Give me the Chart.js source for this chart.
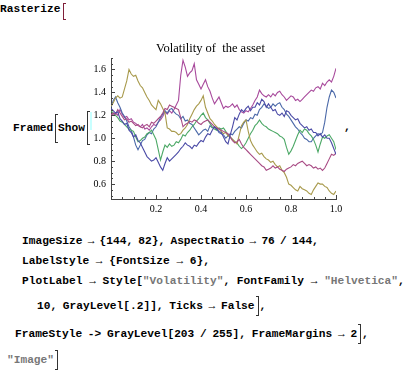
<!DOCTYPE html>
<html>
<head>
<meta charset="utf-8">
<script src="https://cdn.jsdelivr.net/npm/chart.js@4.4.1/dist/chart.umd.min.js"></script>
<style>
    html, body { margin: 0; padding: 0; background: #fff; }
    body { width: 412px; height: 370px; position: relative; overflow: hidden; }
    .code {
        position: absolute;
        font-family: "Liberation Mono", "Courier New", monospace;
        font-weight: bold;
        font-size: 11.2px;
        line-height: 13px;
        white-space: pre;
        color: #000;
    }
    .str { color: #777; }
    .brk {
        position: absolute;
        width: 2px;
        border: 1px solid #333;
    }
    .brk.open { border-right: none; }
    .ibrk {
        display: inline-block;
        width: 2px;
        height: 18px;
        border: 1px solid #333;
        border-left: none;
        vertical-align: -7px;
        margin: 0 1px 0 1px;
    }
    #chartBox { position: absolute; left: 85px; top: 30px; width: 262px; height: 190px; }
</style>
</head>
<body>

<div class="code" style="left:0px; top:3px;">Rasterize</div>
<div class="brk open" style="left:63px; top:3px; height:15px; border-color:#80203a;"></div>

<div class="code" style="left:13px; top:122px;">Framed</div>
<div class="brk open" style="left:55px; top:114px; height:27px;"></div>
<div class="code" style="left:58px; top:122px;">Show</div>
<div class="brk open" style="left:87px; top:111px; height:32px;"></div>
<div style="position:absolute; left:90px; top:112px; width:2px; height:18px; background:#c8ffff;"></div>
<div class="code" style="left:344px; top:121px;">,</div>

<div id="chartBox"><canvas id="volChart" width="262" height="190"></canvas></div>

<div class="code" style="left:22px; top:235px; word-spacing:-1.5px;">ImageSize → {144, 82}, AspectRatio → 76 / 144,</div>
<div class="code" style="left:22px; top:255px;">LabelStyle → {FontSize → 6},</div>
<div class="code" style="left:22px; top:275px;">PlotLabel → Style[<span class="str">"Volatility"</span>, FontFamily → <span class="str">"Helvetica"</span>,</div>
<div class="code" style="left:37px; top:296px; word-spacing:-1px;">10, GrayLevel[.2]], Ticks → False<span class="ibrk"></span>,</div>
<div class="code" style="left:15px; top:324px; word-spacing:-1px;">FrameStyle -> GrayLevel[203 / 255], FrameMargins → 2<span class="ibrk"></span>,</div>
<div class="code" style="left:7px; top:350px;"><span class="str">"Image"</span><span class="ibrk"></span></div>

<script>
// time axis (fraction of the period)
const steps = [
    0.00, 0.01, 0.02, 0.03, 0.04, 0.05, 0.06, 0.07, 0.08, 0.09,
    0.10, 0.11, 0.12, 0.13, 0.14, 0.15, 0.16, 0.17, 0.18, 0.19,
    0.20, 0.21, 0.22, 0.23, 0.24, 0.25, 0.26, 0.27, 0.28, 0.29,
    0.30, 0.31, 0.32, 0.33, 0.34, 0.35, 0.36, 0.37, 0.38, 0.39,
    0.40, 0.41, 0.42, 0.43, 0.44, 0.45, 0.46, 0.47, 0.48, 0.49,
    0.50, 0.51, 0.52, 0.53, 0.54, 0.55, 0.56, 0.57, 0.58, 0.59,
    0.60, 0.61, 0.62, 0.63, 0.64, 0.65, 0.66, 0.67, 0.68, 0.69,
    0.70, 0.71, 0.72, 0.73, 0.74, 0.75, 0.76, 0.77, 0.78, 0.79,
    0.80, 0.81, 0.82, 0.83, 0.84, 0.85, 0.86, 0.87, 0.88, 0.89,
    0.90, 0.91, 0.92, 0.93, 0.94, 0.95, 0.96, 0.97, 0.98, 0.99,
    1.00
];

const pathDarkBlue = [
    1.26, 1.24, 1.22, 1.23, 1.17, 1.15, 1.12, 1.13, 1.07, 1.05,
    1.01, 1.03, 0.98, 0.96, 0.92, 0.88, 0.84, 0.82, 0.80, 0.81,
    0.83, 0.79, 0.75, 0.72, 0.78, 0.83, 0.80, 0.82, 0.84, 0.86,
    0.88, 0.91, 0.93, 0.96, 0.94, 0.93, 0.91, 0.94, 0.93, 0.96,
    0.98, 0.97, 1.01, 1.04, 1.03, 1.07, 1.10, 1.08, 1.06, 1.05,
    1.01, 0.97, 0.95, 1.03, 1.10, 1.18, 1.16, 1.21, 1.25, 1.23,
    1.26, 1.28, 1.24, 1.27, 1.27, 1.31, 1.29, 1.34, 1.32, 1.27,
    1.30, 1.27, 1.24, 1.25, 1.21, 1.20, 1.22, 1.19, 1.24, 1.23,
    1.20, 1.18, 1.16, 1.17, 1.13, 1.11, 1.09, 1.10, 1.07, 1.08,
    1.05, 1.05, 1.02, 1.04, 1.01, 1.03, 1.00, 1.00, 0.96, 0.91,
    0.86
];

const pathPink = [
    1.20, 1.22, 1.21, 1.25, 1.22, 1.19, 1.16, 1.17, 1.14, 1.15,
    1.13, 1.11, 1.12, 1.10, 1.09, 1.11, 1.12, 1.10, 1.14, 1.13,
    1.15, 1.17, 1.19, 1.22, 1.26, 1.25, 1.29, 1.28, 1.27, 1.26,
    1.25, 1.18, 1.10, 1.12, 1.13, 1.15, 1.14, 1.16, 1.15, 1.13,
    1.12, 1.14, 1.15, 1.16, 1.14, 1.12, 1.10, 1.09, 1.08, 1.07,
    1.06, 1.05, 1.04, 1.01, 0.98, 0.96, 0.97, 0.99, 0.95, 0.92,
    0.90, 0.88, 0.86, 0.84, 0.82, 0.80, 0.78, 0.76, 0.75, 0.72,
    0.73, 0.74, 0.76, 0.74, 0.75, 0.73, 0.72, 0.71, 0.73, 0.74,
    0.75, 0.77, 0.76, 0.78, 0.79, 0.80, 0.78, 0.76, 0.77, 0.76,
    0.74, 0.75, 0.73, 0.74, 0.72, 0.74, 0.78, 0.82, 0.86, 0.85,
    0.87
];

const pathOlive = [
    1.28, 1.31, 1.35, 1.37, 1.35, 1.36, 1.43, 1.50, 1.60, 1.56,
    1.54, 1.55, 1.50, 1.46, 1.44, 1.40, 1.36, 1.33, 1.29, 1.27,
    1.25, 1.33, 1.30, 1.26, 1.22, 1.09, 1.08, 1.06, 1.06, 1.05,
    1.03, 1.04, 1.07, 1.09, 1.12, 1.17, 1.21, 1.25, 1.28, 1.30,
    1.33, 1.37, 1.27, 1.22, 1.17, 1.15, 1.12, 1.10, 1.08, 1.06,
    1.04, 1.05, 1.02, 1.01, 0.99, 0.97, 0.95, 1.03, 1.11, 1.14,
    1.16, 1.06, 0.98, 0.94, 0.91, 0.88, 0.86, 0.87, 0.84, 0.82,
    0.81, 0.79, 0.80, 0.77, 0.75, 0.76, 0.72, 0.70, 0.66, 0.60,
    0.59, 0.57, 0.55, 0.54, 0.58, 0.56, 0.55, 0.54, 0.52, 0.51,
    0.55, 0.58, 0.61, 0.60, 0.60, 0.58, 0.57, 0.54, 0.52, 0.51,
    0.54
];

const pathGreen = [
    1.24, 1.22, 1.20, 1.18, 1.15, 1.14, 1.12, 1.10, 1.08, 1.07,
    1.06, 1.01, 0.97, 0.98, 1.00, 1.01, 1.04, 1.05, 1.07, 1.03,
    0.99, 0.90, 0.81, 0.88, 0.94, 0.92, 0.95, 0.93, 0.94, 0.97,
    0.96, 0.99, 1.03, 1.02, 1.05, 1.07, 1.10, 1.12, 1.15, 1.17,
    1.20, 1.22, 1.18, 1.16, 1.13, 1.10, 1.08, 1.07, 1.09, 1.08,
    1.09, 1.06, 1.03, 1.01, 0.99, 0.97, 0.96, 0.93, 0.91, 0.93,
    0.96, 1.00, 1.04, 1.07, 1.11, 1.13, 1.16, 1.13, 1.11, 1.10,
    1.08, 1.07, 1.06, 1.05, 1.04, 1.02, 1.01, 0.99, 0.92, 0.86,
    0.89, 0.93, 0.98, 1.03, 1.07, 1.05, 1.08, 1.07, 1.04, 1.02,
    0.99, 0.94, 0.88, 0.95, 1.01, 1.00, 1.02, 1.03, 1.00, 0.97,
    0.90
];

const pathBlue = [
    1.27, 1.33, 1.36, 1.31, 1.27, 1.22, 1.19, 1.15, 1.10, 1.07,
    1.01, 0.94, 0.90, 0.94, 0.98, 0.99, 1.03, 1.05, 1.04, 1.08,
    1.10, 1.14, 1.18, 1.21, 1.24, 1.22, 1.25, 1.26, 1.23, 1.21,
    1.20, 1.17, 1.19, 1.15, 1.16, 1.13, 1.12, 1.09, 1.06, 1.03,
    1.05, 1.07, 1.08, 1.06, 1.11, 1.09, 1.10, 1.08, 1.05, 1.04,
    1.03, 1.00, 1.02, 1.04, 1.03, 1.06, 1.08, 1.10, 1.09, 1.13,
    1.16, 1.15, 1.18, 1.17, 1.21, 1.20, 1.25, 1.27, 1.30, 1.28,
    1.26, 1.27, 1.30, 1.28, 1.30, 1.31, 1.27, 1.25, 1.21, 1.19,
    1.16, 1.13, 1.10, 1.08, 1.05, 1.03, 1.00, 0.99, 0.97, 0.97,
    1.00, 1.02, 1.04, 1.03, 1.05, 1.14, 1.27, 1.36, 1.42, 1.40,
    1.35
];

const pathPurple = [
    1.19, 1.21, 1.22, 1.20, 1.25, 1.21, 1.18, 1.19, 1.16, 1.17,
    1.14, 1.13, 1.11, 1.10, 1.12, 1.08, 1.09, 1.07, 1.10, 1.12,
    1.11, 1.14, 1.16, 1.19, 1.23, 1.21, 1.24, 1.22, 1.25, 1.29,
    1.33, 1.55, 1.68, 1.62, 1.54, 1.57, 1.59, 1.65, 1.51, 1.47,
    1.43, 1.47, 1.51, 1.45, 1.41, 1.35, 1.30, 1.33, 1.36, 1.31,
    1.26, 1.28, 1.27, 1.28, 1.30, 1.27, 1.29, 1.25, 1.23, 1.22,
    1.24, 1.23, 1.26, 1.29, 1.33, 1.36, 1.42, 1.39, 1.37, 1.36,
    1.38, 1.36, 1.39, 1.37, 1.40, 1.41, 1.38, 1.36, 1.33, 1.35,
    1.37, 1.36, 1.33, 1.34, 1.32, 1.34, 1.36, 1.38, 1.40, 1.42,
    1.41, 1.44, 1.45, 1.43, 1.48, 1.46, 1.49, 1.51, 1.49, 1.54,
    1.61
];

const xTickValues = [0.2, 0.4, 0.6, 0.8, 1.0];
const yTickValues = [0.6, 0.8, 1.0, 1.2, 1.4, 1.6];
const plotTitle = 'Volatility of  the asset';

const AXIS_COLOR = '#444';
const SERIF = '"Liberation Serif", "Times New Roman", serif';

// Mathematica-style ticks that point into the plot
const inwardTicks = {
    id: 'inwardTicks',
    afterDraw(chart) {
        const { ctx, chartArea, scales } = chart;
        const xs = scales.x;
        const ys = scales.y;
        const isMajor = (list, v) => list.some(t => Math.abs(t - v) < 1e-6);
        ctx.save();
        ctx.strokeStyle = AXIS_COLOR;
        ctx.lineWidth = 1;
        ctx.beginPath();
        for (let i = 1; i <= 20; i++) {
            const v = i * 0.05;
            const px = Math.round(xs.getPixelForValue(v)) + 0.5;
            const len = isMajor(xTickValues, v) ? 4 : 2;
            ctx.moveTo(px, chartArea.bottom);
            ctx.lineTo(px, chartArea.bottom - len);
        }
        for (let i = 10; i <= 34; i++) {
            const v = i * 0.05;
            const py = Math.round(ys.getPixelForValue(v)) + 0.5;
            const len = isMajor(yTickValues, v) ? 4 : 2;
            ctx.moveTo(chartArea.left, py);
            ctx.lineTo(chartArea.left + len, py);
        }
        ctx.stroke();
        ctx.restore();
    }
};

function makeLine(data, color) {
    return {
        data: data,
        borderColor: color,
        borderWidth: 1.1,
        pointRadius: 0,
        tension: 0,
        fill: false
    };
}

new Chart(document.getElementById('volChart'), {
    type: 'line',
    data: {
        labels: steps,
        datasets: [
            makeLine(pathDarkBlue, '#4a4aa6'),
            makeLine(pathPink, '#a84a84'),
            makeLine(pathOlive, '#a89a4c'),
            makeLine(pathGreen, '#4ca866'),
            makeLine(pathBlue, '#4a68a8'),
            makeLine(pathPurple, '#a84a9c')
        ]
    },
    options: {
        responsive: false,
        animation: false,
        devicePixelRatio: 1,
        layout: { padding: { left: 0, right: 11, top: 0, bottom: 0 } },
        plugins: {
            legend: { display: false },
            tooltip: { enabled: false },
            title: {
                display: true,
                text: plotTitle,
                color: '#000',
                font: { family: SERIF, size: 12.5, weight: 'normal' },
                padding: { top: 11, bottom: 2 }
            }
        },
        scales: {
            x: {
                type: 'linear',
                min: 0,
                max: 1,
                afterFit: s => { s.height = 21; },
                afterBuildTicks: s => { s.ticks = xTickValues.map(v => ({ value: v })); },
                grid: { display: true, drawOnChartArea: false, drawTicks: false },
                border: { display: true, color: AXIS_COLOR, width: 1 },
                ticks: {
                    padding: 4,
                    autoSkip: false,
                    maxRotation: 0,
                    color: '#000',
                    font: { family: SERIF, size: 10 },
                    callback: v => Number(v).toFixed(1)
                }
            },
            y: {
                min: 0.47,
                max: 1.70,
                afterFit: s => { s.width = 26; },
                afterBuildTicks: s => { s.ticks = yTickValues.map(v => ({ value: v })); },
                grid: { display: true, drawOnChartArea: false, drawTicks: false },
                border: { display: true, color: AXIS_COLOR, width: 1 },
                ticks: {
                    padding: 5,
                    color: '#000',
                    font: { family: SERIF, size: 10 },
                    callback: v => Number(v).toFixed(1)
                }
            }
        }
    },
    plugins: [inwardTicks]
});
</script>
</body>
</html>
